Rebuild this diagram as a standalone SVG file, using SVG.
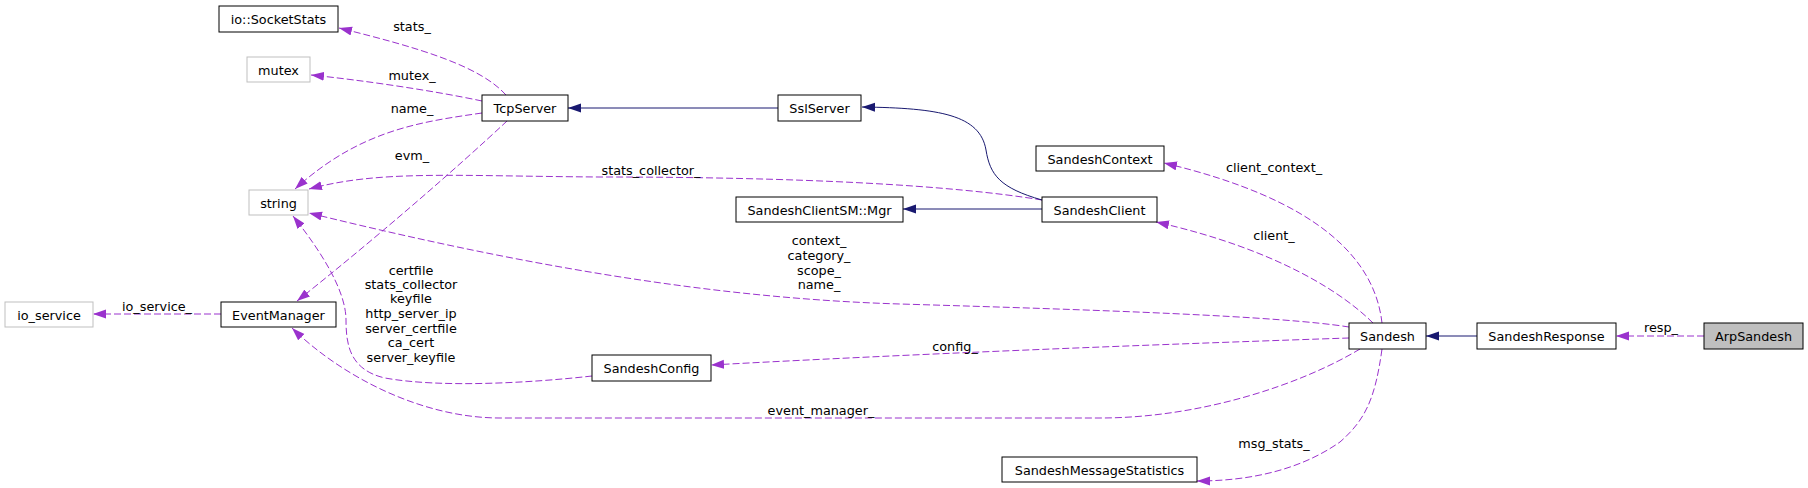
<svg xmlns="http://www.w3.org/2000/svg" width="1808" height="488" viewBox="0 0 1808 488">
<style>
text{font-family:"DejaVu Sans",sans-serif;font-size:12.8px;fill:#000;text-anchor:middle}
.n rect{fill:#fff;stroke:#000;stroke-width:1}
.g rect{fill:#fff;stroke:#bfbfbf;stroke-width:1}
.u{fill:none;stroke:#9a32cd;stroke-width:1;stroke-dasharray:7,3;marker-end:url(#ap)}
.i{fill:none;stroke:#191970;stroke-width:1;marker-end:url(#an)}
</style>
<defs>
<marker id="ap" markerUnits="userSpaceOnUse" markerWidth="14" markerHeight="10" refX="13" refY="4.5" orient="auto"><path d="M0,0 L13,4.5 L0,9 z" fill="#9a32cd"/></marker>
<marker id="an" markerUnits="userSpaceOnUse" markerWidth="14" markerHeight="10" refX="13" refY="4.5" orient="auto"><path d="M0,0 L13,4.5 L0,9 z" fill="#191970"/></marker>
</defs>
<g id="connectors">
<path class="u" d="M506,95 C480,66 420,48 339,28"/>
<path class="u" d="M482,101 C430,90 360,80 311,75"/>
<path class="u" d="M482,113 C420,122 360,130 295,189"/>
<path class="u" d="M507,121 C460,165 380,235 297,301"/>
<path class="u" d="M1042,200 C950,185 800,177 600,177 C450,176 380,170 309,189"/>
<path class="u" d="M1349,327 C1280,316 1100,310 900,304 C700,298 500,260 309,213"/>
<path class="u" d="M592,376 C530,383 440,388 385,378 C350,370 346,345 346,320 C346,290 320,250 293,216"/>
<path class="u" d="M1360,349 C1300,385 1200,418 1100,418 L500,418 C420,418 340,375 292,328"/>
<path class="u" d="M1349,338 C1200,343 950,352 711,365"/>
<path class="u" d="M1382,349 C1375,400 1365,420 1340,442 C1300,470 1250,481 1197,481"/>
<path class="u" d="M1373,323 C1345,295 1280,250 1156,222"/>
<path class="u" d="M1382,323 C1375,260 1320,200 1164,163"/>
<path class="u" d="M1704,336 L1616,336"/>
<path class="u" d="M221,314 L93,314"/>
<path class="i" d="M1042,200 C1000,188 990,175 986,150 C980,115 940,108 862,107"/>
<path class="i" d="M778,108 L568,108"/>
<path class="i" d="M1042,209 L903,209"/>
<path class="i" d="M1477,336 L1426,336"/>
<text x="412" y="31">stats_</text>
<text x="412" y="80">mutex_</text>
<text x="412" y="113">name_</text>
<text x="412" y="160">evm_</text>
<text x="651" y="175">stats_collector_</text>
<text x="1274" y="172">client_context_</text>
<text x="1274" y="240">client_</text>
<text x="819" y="245">context_</text>
<text x="819" y="260">category_</text>
<text x="819" y="275">scope_</text>
<text x="819" y="289">name_</text>
<text x="157" y="311">io_service_</text>
<text x="411" y="275">certfile</text>
<text x="411" y="289">stats_collector</text>
<text x="411" y="303">keyfile</text>
<text x="411" y="318">http_server_ip</text>
<text x="411" y="333">server_certfile</text>
<text x="411" y="347">ca_cert</text>
<text x="411" y="362">server_keyfile</text>
<text x="955" y="351">config_</text>
<text x="821" y="415">event_manager_</text>
<text x="1661" y="332">resp_</text>
<text x="1274" y="448">msg_stats_</text>
</g>
<g id="ArpSandesh" class="n"><rect x="1704" y="323" width="99" height="26" style="fill:#bfbfbf"/><text x="1753.5" y="341">ArpSandesh</text></g>
<g id="SandeshResponse" class="n"><rect x="1477" y="323" width="139" height="26"/><text x="1546.5" y="341">SandeshResponse</text></g>
<g id="Sandesh" class="n"><rect x="1349" y="323" width="77" height="26"/><text x="1387.5" y="341">Sandesh</text></g>
<g id="SandeshClient" class="n"><rect x="1042" y="197" width="115" height="25"/><text x="1099.5" y="214.5">SandeshClient</text></g>
<g id="SandeshContext" class="n"><rect x="1036" y="146" width="128" height="25"/><text x="1100" y="163.5">SandeshContext</text></g>
<g id="SandeshClientSMMgr" class="n"><rect x="736" y="197" width="167" height="25"/><text x="819.5" y="214.5">SandeshClientSM::Mgr</text></g>
<g id="SslServer" class="n"><rect x="778" y="95" width="83" height="26"/><text x="819.5" y="113">SslServer</text></g>
<g id="TcpServer" class="n"><rect x="482" y="95" width="86" height="26"/><text x="525" y="113">TcpServer</text></g>
<g id="SocketStats" class="n"><rect x="219" y="6" width="119" height="26"/><text x="278.5" y="24">io::SocketStats</text></g>
<g id="mutex" class="g"><rect x="247" y="57" width="63" height="25"/><text x="278.5" y="74.5">mutex</text></g>
<g id="string" class="g"><rect x="249" y="190" width="59" height="25"/><text x="278.5" y="207.5">string</text></g>
<g id="io_service" class="g"><rect x="5" y="302" width="88" height="25"/><text x="49" y="319.5">io_service</text></g>
<g id="EventManager" class="n"><rect x="221" y="302" width="115" height="25"/><text x="278.5" y="319.5">EventManager</text></g>
<g id="SandeshConfig" class="n"><rect x="592" y="355" width="119" height="26"/><text x="651.5" y="373">SandeshConfig</text></g>
<g id="SandeshMessageStatistics" class="n"><rect x="1002" y="457" width="195" height="25"/><text x="1099.5" y="474.5">SandeshMessageStatistics</text></g>
</svg>
